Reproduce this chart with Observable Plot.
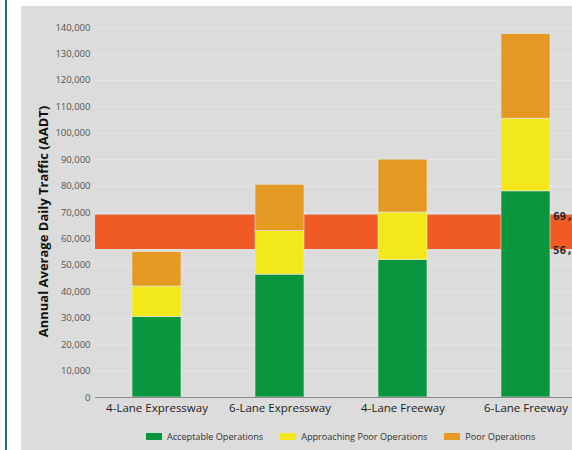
<!DOCTYPE html>
<html>
<head>
<meta charset="utf-8">
<script src="https://cdn.jsdelivr.net/npm/d3@7"></script>
<script src="https://cdn.jsdelivr.net/npm/@observablehq/plot@0.6"></script>
<style>
  html, body { margin: 0; padding: 0; background: #ffffff; overflow: hidden; width: 572px; height: 450px; }
  #blue { position: absolute; left: 5px; top: 0; width: 2px; height: 450px; background: #1f6a9a; }
  #panel { position: absolute; left: 21px; top: 6px; width: 551px; height: 444px; background: #dcdcdc; overflow: hidden; }
  #chart { position: absolute; left: 0; top: 0; width: 566px; }
  #chart svg { max-width: none !important; }
  #legend { position: absolute; left: 125px; top: 424px; display: flex; align-items: center;
            font-family: "Open Sans", sans-serif; font-size: 9.1px; color: #333; white-space: nowrap; }
  .item { display: flex; align-items: center; margin-right: 17px; }
  .sw { width: 16px; height: 7px; margin-right: 5px; }
</style>
</head>
<body>
<div id="blue"></div>
<div id="panel">
  <div id="chart"></div>
  <div id="legend"></div>
</div>
<script>
const categories = ["4-Lane Expressway", "6-Lane Expressway", "4-Lane Freeway", "6-Lane Freeway"];
const statuses = ["Acceptable Operations", "Approaching Poor Operations", "Poor Operations"];
const colors = ["#08973f", "#f2e81a", "#e49a22"];
const acceptable = [30500, 46500, 52000, 78000];
const approaching = [11500, 16500, 18000, 27500];
const poor = [13000, 17500, 20000, 32000];
const bandLow = 56000;
const bandHigh = 69000;
const bandLabels = ["69,000", "56,000"];
const yTicks = d3.range(0, 140001, 10000);

const series = [acceptable, approaching, poor];
const data = [];
categories.forEach((c, i) => {
  statuses.forEach((s, j) => data.push({category: c, status: s, value: series[j][i]}));
});

const chart = Plot.plot({
  width: 566,
  height: 421,
  marginLeft: 74,
  marginRight: 0,
  marginTop: 21,
  marginBottom: 30,
  style: {background: "transparent", fontFamily: "'Open Sans', sans-serif", maxWidth: "none"},
  x: {domain: categories, paddingInner: 0.6, paddingOuter: 0.3, label: null},
  y: {domain: [0, 140000], label: null},
  color: {domain: statuses, range: colors},
  marks: [
    Plot.gridY(yTicks, {stroke: "#e6e6e6", strokeOpacity: 1, strokeWidth: 1}),
    Plot.rectY([{y1: bandLow, y2: bandHigh}], {y1: "y1", y2: "y2", fill: "#f15a22"}),
    Plot.barY(data, {x: "category", y: "value", fill: "status", order: statuses, stroke: "#e6e6e6", strokeWidth: 0.6}),
    Plot.ruleY([0], {stroke: "#8a8a8a", strokeWidth: 1}),
    Plot.axisY(yTicks, {tickSize: 0, tickPadding: 5, fontSize: 9.5, fill: "#555", tickFormat: d3.format(","), label: null}),
    Plot.axisX({tickSize: 0, tickPadding: 6, fontSize: 11.5, fill: "#222", label: null}),
    Plot.text(["Annual Average Daily Traffic (AADT)"], {frameAnchor: "left", textAnchor: "middle", dx: -52, dy: 9, rotate: -90, fontSize: 13, fontWeight: "bold", fill: "#111"}),
    Plot.text([bandHigh, bandLow], {x: () => categories[3], y: d => d, text: (d, i) => bandLabels[i], dx: 27, dy: 1, textAnchor: "start", fontSize: 11, fontWeight: "bold", fontFamily: "'DejaVu Sans Mono', monospace", fill: "#222"})
  ]
});
document.getElementById("chart").appendChild(chart);

const legend = document.getElementById("legend");
statuses.forEach((s, i) => {
  const item = document.createElement("div");
  item.className = "item";
  const sw = document.createElement("div");
  sw.className = "sw";
  sw.style.background = colors[i];
  const t = document.createElement("span");
  t.textContent = s;
  item.appendChild(sw);
  item.appendChild(t);
  legend.appendChild(item);
});
</script>
</body>
</html>
